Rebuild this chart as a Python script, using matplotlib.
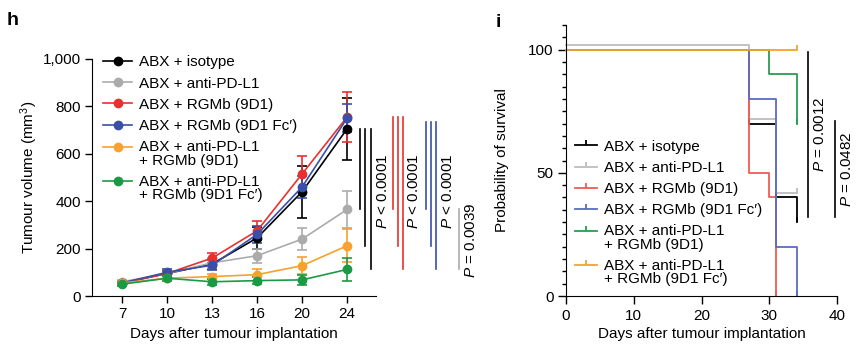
import numpy as np
import matplotlib
matplotlib.use("Agg")
import matplotlib.pyplot as plt
from matplotlib.lines import Line2D
from matplotlib.legend_handler import HandlerLine2D

plt.rcParams['font.family'] = ['Liberation Sans', 'DejaVu Sans']
plt.rcParams['font.size'] = 11
plt.rcParams['mathtext.fontset'] = 'custom'
plt.rcParams['mathtext.rm'] = 'Liberation Sans'
plt.rcParams['mathtext.it'] = 'Liberation Sans:italic'

# ---- panel h: tumour volume ----
days = [7, 10, 13, 16, 20, 24]
groups = ['ABX + isotype', 'ABX + anti-PD-L1', 'ABX + RGMb (9D1)',
          'ABX + RGMb (9D1 Fc\u2032)', 'ABX + anti-PD-L1\n+ RGMb (9D1)',
          'ABX + anti-PD-L1\n+ RGMb (9D1 Fc\u2032)']
colors = ['#000000', '#ababab', '#e8312f', '#3a4fa8', '#f7a12f', '#1b9a46']
colors_km = ['#000000', '#bdbdbd', '#f25b55', '#5a6cc0', '#2a9d4e', '#f7a12f']

vol_isotype = [55, 95, 135, 245, 440, 705]
vol_pdl1 = [60, 95, 140, 170, 240, 365]
vol_9d1 = [55, 95, 160, 275, 515, 755]
vol_fc = [55, 100, 130, 260, 460, 750]
vol_combo = [55, 75, 82, 90, 128, 212]
vol_combo_fc = [50, 75, 60, 65, 68, 112]

err_isotype = [8, 12, 20, 45, 110, 130]
err_pdl1 = [8, 12, 20, 30, 45, 80]
err_9d1 = [8, 12, 20, 40, 75, 105]
err_fc = [8, 12, 20, 35, 45, 60]
err_combo = [8, 10, 12, 25, 35, 70]
err_combo_fc = [8, 10, 12, 15, 20, 50]

volumes = [vol_isotype, vol_pdl1, vol_9d1, vol_fc, vol_combo, vol_combo_fc]
errors = [err_isotype, err_pdl1, err_9d1, err_fc, err_combo, err_combo_fc]

# ---- panel i: survival ----
km_isotype_t = [0, 27, 31, 34]
km_isotype_s = [100, 70, 40, 30]
km_pdl1_t = [0, 27, 31, 34]
km_pdl1_s = [102, 72, 42, 42]
km_9d1_t = [0, 27, 30, 31]
km_9d1_s = [100, 50, 40, 0]
km_fc_t = [0, 27, 31, 34]
km_fc_s = [100, 80, 20, 0]
km_combo_t = [0, 30, 34]
km_combo_s = [100, 90, 70]
km_combo_fc_t = [0, 34]
km_combo_fc_s = [100, 100]

km_groups = groups
km_times = [km_isotype_t, km_pdl1_t, km_9d1_t, km_fc_t, km_combo_t, km_combo_fc_t]
km_surv = [km_isotype_s, km_pdl1_s, km_9d1_s, km_fc_s, km_combo_s, km_combo_fc_s]


# legend handler that lifts the handle up to the first line of a two-line label
class RaisedLine(HandlerLine2D):
    def __init__(self, dy, **kw):
        super().__init__(**kw)
        self.dy = dy

    def create_artists(self, legend, orig_handle, xdescent, ydescent, width,
                       height, fontsize, trans):
        arts = super().create_artists(legend, orig_handle, xdescent, ydescent,
                                      width, height, fontsize, trans)
        for a in arts:
            a.set_ydata(np.asarray(a.get_ydata(), dtype=float) + self.dy)
        return arts


fig = plt.figure(figsize=(8.64, 3.46), dpi=100)

ax1 = fig.add_axes([0.1065, 0.1445, 0.3285, 0.685])
x = np.arange(len(days))
for vals, errs, col in zip(volumes, errors, colors):
    ax1.errorbar(x, vals, yerr=errs, color=col, lw=1.2, marker='o', ms=6,
                 capsize=3.5, elinewidth=1.2, capthick=1.2, clip_on=False)

ax1.set_xlim(-0.67, 5.64)
ax1.set_ylim(0, 1000)
ax1.set_xticks(x)
ax1.set_xticklabels([str(d) for d in days])
ax1.set_yticks([0, 200, 400, 600, 800, 1000])
ax1.set_yticklabels(['0', '200', '400', '600', '800', '1,000'])
ax1.spines['top'].set_visible(False)
ax1.spines['right'].set_visible(False)
ax1.tick_params(direction='out', length=5, width=1, pad=3)
ax1.set_xlabel('Days after tumour implantation')
ax1.xaxis.set_label_coords(0.5, -0.131)
ax1.set_ylabel('Tumour volume (mm$^{3}$)')
ax1.yaxis.set_label_coords(-0.185, 0.5)

# significance lines from reference group to others at day 24
def bracket(ax, x0, y_top, y_ends, step, label, ytext, xtext, col):
    for k, ye in enumerate(y_ends):
        ax.plot([x0 + k * step] * 2, [y_top, ye], color=col, lw=1.2, clip_on=False)
    ax.text(xtext, ytext, label, rotation=90, ha='center', va='center')

last = [v[-1] for v in volumes]
others = [last[1], last[4], last[5]]
bracket(ax1, 5.29, last[0], others, 0.12, '$\\it{P}$ < 0.0001', 440, 5.80, colors[0])
bracket(ax1, 6.02, last[2], others, 0.11, '$\\it{P}$ < 0.0001', 440, 6.49, colors[2])
bracket(ax1, 6.76, last[3] - 15, others, 0.11, '$\\it{P}$ < 0.0001', 440, 7.24, colors[3])
bracket(ax1, 7.49, last[1], [last[5]], 0, '$\\it{P}$ = 0.0039', 237, 7.75, colors[1])

handles1 = [Line2D([], [], color=c, lw=1.2, marker='o', ms=6) for c in colors]
hmap1 = {handles1[4]: RaisedLine(5.4), handles1[5]: RaisedLine(5.4)}
leg1 = ax1.legend(handles1, groups, loc='upper left', bbox_to_anchor=(0.04, 1.015),
                  frameon=False, handlelength=1.9, handletextpad=0.4,
                  labelspacing=0.47, borderaxespad=0, borderpad=0, handler_map=hmap1)
for t in leg1.get_texts():
    t.set_linespacing(0.95)

# ---- panel i ----
ax2 = fig.add_axes([0.655, 0.1445, 0.314, 0.783])
for tt, ss, col in zip(km_times, km_surv, colors_km):
    ax2.plot(tt, ss, drawstyle='steps-post', color=col, lw=1.3, marker=2,
             markevery=[len(tt) - 1], ms=3.5, mew=1.3, clip_on=False)

ax2.set_xlim(0, 40)
ax2.set_ylim(0, 110)
ax2.set_xticks([0, 10, 20, 30, 40])
ax2.set_yticks([0, 50, 100])
ax2.set_yticks(np.arange(0, 111, 5), minor=True)
ax2.spines['top'].set_visible(False)
ax2.spines['right'].set_visible(False)
ax2.tick_params(direction='out', length=6, width=1, pad=3)
ax2.tick_params(which='minor', direction='out', length=3, width=1)
ax2.set_xlabel('Days after tumour implantation')
ax2.xaxis.set_label_coords(0.5, -0.114)
ax2.set_ylabel('Probability of survival')
ax2.yaxis.set_label_coords(-0.21, 0.5)

ax2.plot([35.7, 35.7], [99, 32], color='black', lw=1.2, clip_on=False)
ax2.text(37.5, 65.5, '$\\it{P}$ = 0.0012', rotation=90, ha='center', va='center')
ax2.plot([39.6, 39.6], [71, 32], color='black', lw=1.2, clip_on=False)
ax2.text(41.5, 51.5, '$\\it{P}$ = 0.0482', rotation=90, ha='center', va='center')

handles2 = [Line2D([], [], color=c, lw=1.3, marker=2, ms=3.5, mew=1.3) for c in colors_km]
hmap2 = {handles2[4]: RaisedLine(5.4), handles2[5]: RaisedLine(5.4)}
leg2 = ax2.legend(handles2, km_groups, loc='upper left', bbox_to_anchor=(0.035, 0.577),
                  frameon=False, handlelength=1.4, handletextpad=0.5,
                  labelspacing=0.47, borderaxespad=0, borderpad=0, handler_map=hmap2)
for t in leg2.get_texts():
    t.set_linespacing(0.95)

fig.text(0.008, 0.94, 'h', fontsize=14, fontweight='bold', va='center')
fig.text(0.574, 0.935, 'i', fontsize=14, fontweight='bold', va='center')

fig.savefig('out.png', dpi=100)
